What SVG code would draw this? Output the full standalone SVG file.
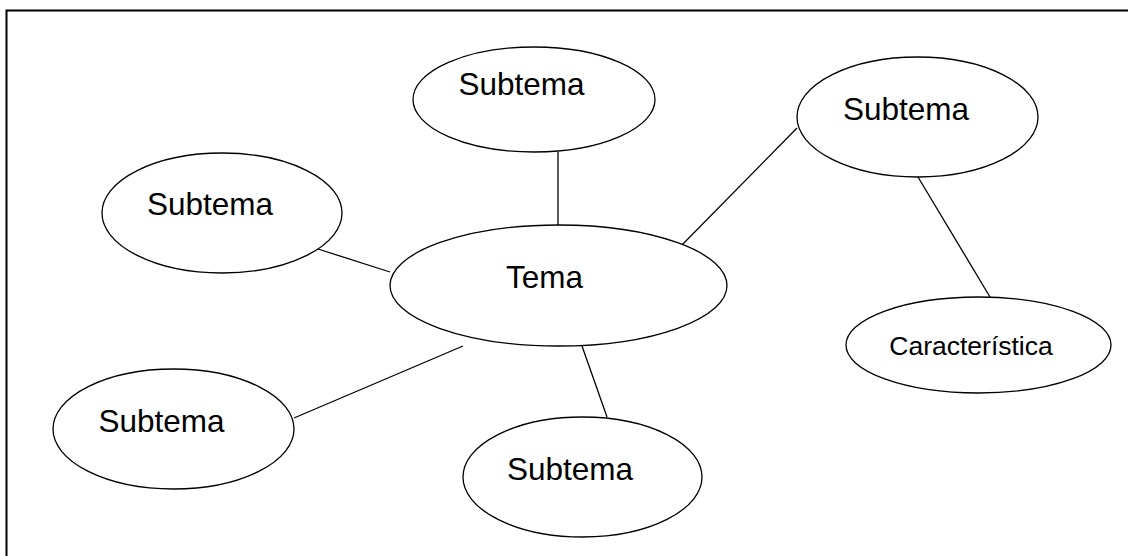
<svg xmlns="http://www.w3.org/2000/svg" width="1128" height="556" viewBox="0 0 1128 556">
<style>
.n{fill:#fff;stroke:#000;stroke-width:1.3}
.c{stroke:#000;stroke-width:1.3;fill:none}
.t{font-family:"Liberation Sans",Arial,sans-serif;font-size:31.5px;fill:#000;text-anchor:middle}
.s{font-size:26.5px}
</style>
<rect x="0" y="0" width="1128" height="556" fill="#fff"/>
<rect x="6.5" y="10.5" width="1140" height="560" fill="none" stroke="#000" stroke-width="2"/>
<g id="connectors">
<line class="c" x1="558" y1="152" x2="558" y2="225"/>
<line class="c" x1="797" y1="128" x2="678" y2="249"/>
<line class="c" x1="918" y1="177" x2="990" y2="297"/>
<line class="c" x1="318" y1="249" x2="390" y2="272"/>
<line class="c" x1="294" y1="418" x2="463" y2="346"/>
<line class="c" x1="582" y1="346" x2="607" y2="417"/>
</g>
<g id="tema">
<ellipse class="n" cx="558.5" cy="285.5" rx="168.5" ry="60.5"/>
<text class="t" x="544.5" y="288">Tema</text>
</g>
<g id="subtema-top">
<ellipse class="n" cx="534" cy="99.5" rx="121" ry="52.5"/>
<text class="t" x="521.5" y="95">Subtema</text>
</g>
<g id="subtema-right">
<ellipse class="n" cx="917.5" cy="117" rx="120.5" ry="60"/>
<text class="t" x="906" y="120">Subtema</text>
</g>
<g id="caracteristica">
<ellipse class="n" cx="978.5" cy="345" rx="132.5" ry="48"/>
<text class="t s" x="971" y="355">Característica</text>
</g>
<g id="subtema-left">
<ellipse class="n" cx="222" cy="213" rx="120" ry="60"/>
<text class="t" x="210" y="215">Subtema</text>
</g>
<g id="subtema-lowerleft">
<ellipse class="n" cx="173.5" cy="429" rx="120.5" ry="60"/>
<text class="t" x="161.5" y="432">Subtema</text>
</g>
<g id="subtema-bottom">
<ellipse class="n" cx="582.5" cy="477" rx="119.5" ry="60"/>
<text class="t" x="570" y="480">Subtema</text>
</g>
</svg>
